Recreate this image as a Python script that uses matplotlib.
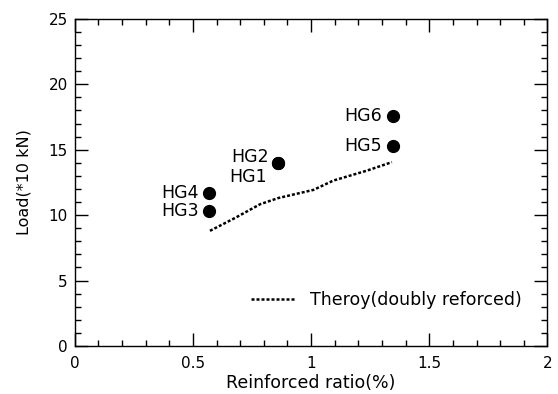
import matplotlib
matplotlib.use("Agg")
from matplotlib import pyplot as plt
from matplotlib.ticker import MultipleLocator

plt.rcParams['font.family'] = ['DejaVu Sans']

# test specimens
names = ["HG3", "HG4", "HG1", "HG2", "HG5", "HG6"]
ratio = [0.57, 0.57, 0.86, 0.86, 1.345, 1.345]
load = [10.3, 11.7, 14.0, 14.0, 15.3, 17.6]
# label offsets in pixels (dx, dy)
offsets = [(-11, 0), (-11, 0), (-11, -14), (-9, 6), (-11, 0), (-11, 0)]

# theory curve (doubly reinforced)
theory_x = [0.572, 0.68, 0.784, 0.86, 1.01, 1.094, 1.236, 1.342]
theory_y = [8.8, 9.8, 10.83, 11.3, 11.93, 12.64, 13.4, 14.05]

fig = plt.figure(figsize=(5.58, 3.94), dpi=100)
ax = fig.add_axes([0.134, 0.122, 0.847, 0.830])

ax.plot(theory_x, theory_y, color='black', lw=1.8, linestyle=(0, (1.2, 0.8)),
        label="Theroy(doubly reforced)")
ax.plot(ratio, load, 'o', color='black', ms=8.5, linestyle='none')

for n, x, y, (dx, dy) in zip(names, ratio, load, offsets):
    ax.annotate(n, (x, y), xytext=(dx, dy), textcoords='offset pixels',
                ha='right', va='center', fontsize=12.5)

ax.set_xlim(0, 2)
ax.set_ylim(0, 25)
ax.xaxis.set_major_locator(MultipleLocator(0.5))
ax.xaxis.set_minor_locator(MultipleLocator(0.1))
ax.yaxis.set_major_locator(MultipleLocator(5))
ax.yaxis.set_minor_locator(MultipleLocator(1))
ax.set_xticks([0, 0.5, 1, 1.5, 2])
ax.set_xticklabels(["0", "0.5", "1", "1.5", "2"])

ax.tick_params(which='both', direction='in', top=True, right=True, width=1, labelsize=11)
ax.tick_params(which='major', length=9.5)
ax.tick_params(which='minor', length=4.5)
ax.tick_params(axis='x', pad=7)
ax.tick_params(axis='y', pad=5)
for s in ax.spines.values():
    s.set_linewidth(1)

ax.set_xlabel("Reinforced ratio(%)", fontsize=12.5, labelpad=2.5)
ax.set_ylabel("Load(*10 kN)", fontsize=11.5, labelpad=12)

ax.legend(loc='center right', bbox_to_anchor=(0.945, 0.141), frameon=False,
          borderpad=0, borderaxespad=0, handlelength=2.6, handletextpad=0.8,
          fontsize=12.5)

fig.savefig("out.png", dpi=100)
